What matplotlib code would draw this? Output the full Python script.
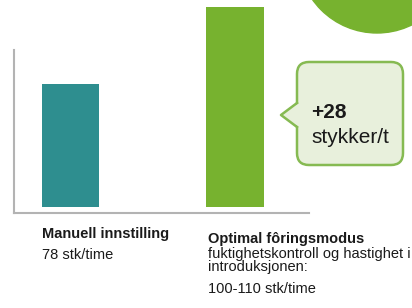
import numpy as np
import matplotlib
matplotlib.use("Agg")
import matplotlib.pyplot as plt
from matplotlib.patches import FancyBboxPatch, Polygon, Circle

plt.rcParams['font.family'] = ['Liberation Sans', 'DejaVu Sans']

# data
categories = ["Manuell innstilling", "Optimal fôringsmodus"]
values = [78, 106]          # stk/time (106 = 78 + 28)
sublabel_manual = "78 stk/time"
sublabel_optimal = ["fuktighetskontroll og hastighet i", "introduksjonen:"]
range_label = "100-110 stk/time"
delta_label = "+28"
delta_unit = "stykker/t"

bar_colors = ["#2e8e8f", "#77b22f"]
green = "#77b22f"
text_col = "#1a1a1a"

W, H = 412, 308
fig = plt.figure(figsize=(W / 100, H / 100), dpi=100)

# main bar axes (pixel box: x 14..309, y 0..213 from top)
ax = fig.add_axes([14 / W, 1 - 213 / H, 295 / W, 213 / H])
floor = 33.3
x = np.arange(len(values))
ax.bar(x, np.array(values) - floor, bottom=floor, width=0.35, color=bar_colors)
ax.set_xlim(-0.343, 1.45)
ax.set_ylim(31.1, 108.6)
for s in ["top", "right"]:
    ax.spines[s].set_visible(False)
for s in ["left", "bottom"]:
    ax.spines[s].set_color("#b3b3b3")
    ax.spines[s].set_linewidth(1.5)
ax.spines["left"].set_bounds(31.1, 90.4)
ax.set_xticks([])
ax.set_yticks([])
ax.patch.set_alpha(0)

# overlay in pixel coordinates for decorations and labels
ov = fig.add_axes([0, 0, 1, 1])
ov.set_xlim(0, W)
ov.set_ylim(H, 0)
ov.axis("off")
ov.patch.set_alpha(0)

ov.add_patch(Circle((377, -46), 79, color=green, zorder=1))

# speech bubble
face = "#e8f0dc"
edge = "#86ba52"
ov.add_patch(FancyBboxPatch((297, 62), 106, 103, boxstyle="round,pad=0,rounding_size=12",
                            fc=face, ec=edge, lw=1.8, zorder=2))
tip = [(297, 103), (281, 115), (297, 127)]
ov.add_patch(Polygon([(299, 103), (281, 115), (299, 127)], closed=True, fc=face, ec="none", zorder=3))
ov.plot([p[0] for p in tip], [p[1] for p in tip], color=edge, lw=1.8, zorder=4,
        solid_joinstyle="round")
ov.text(311, 118, delta_label, fontsize=15, fontweight="bold", color=text_col, va="baseline", zorder=5)
ov.text(311, 143, delta_unit, fontsize=15, color=text_col, va="baseline", zorder=5)

# category labels
ov.text(42, 238, categories[0], fontsize=10.5, fontweight="bold", color=text_col, va="baseline")
ov.text(42, 259, sublabel_manual, fontsize=10.5, color=text_col, va="baseline")
ov.text(208, 243, categories[1], fontsize=10.5, fontweight="bold", color=text_col, va="baseline")
for i, line in enumerate(sublabel_optimal):
    ov.text(208, 258 + 12.5 * i, line, fontsize=10.5, color=text_col, va="baseline")
ov.text(208, 293, range_label, fontsize=10.5, color=text_col, va="baseline")

fig.savefig("out.png", dpi=100)
